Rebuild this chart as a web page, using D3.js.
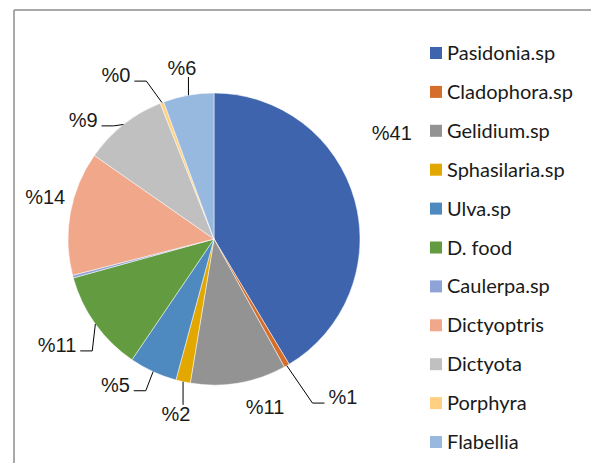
<!DOCTYPE html>
<html>
<head>
<meta charset="utf-8">
<script src="https://cdn.jsdelivr.net/npm/d3@7"></script>
<style>
  html, body { margin: 0; padding: 0; background: #fff; }
  svg { display: block; }
</style>
</head>
<body>
<svg id="chart" width="591" height="463"></svg>
<script>
// ---- data ----
const categories = ["Pasidonia.sp", "Cladophora.sp", "Gelidium.sp", "Sphasilaria.sp", "Ulva.sp",
  "D. food", "Caulerpa.sp", "Dictyoptris", "Dictyota", "Porphyra", "Flabellia"];
const values = [41.4, 0.6, 10.6, 1.6, 5.3, 11.2, 0.3, 13.7, 9.3, 0.4, 5.6];
const colors = ["#3E64AE", "#D46E2A", "#939393", "#E2A800", "#4E89C0",
  "#629B40", "#8FA4D6", "#F1A78A", "#C0C0C0", "#FFD07F", "#97B8DF"];
const showLabel = [true, true, true, true, true, true, false, true, true, true, true];

// ---- label layout (polar placement around pie centre: angle in degrees clockwise from top, distance) ----
const labelAngle = [59.2, 140.8, 163.1, 192.3, 214.1, 236.0, null, 284.0, 312.3, 329.1, 349.4];
const labelDist  = [207, 204, 175.6, 179, 176, 189.4, null, 174, 177, 191, 174];
const leaderType = ["none", "h", "none", "v", "h", "h", null, "none", "h", "h", "v"];

const svg = d3.select("#chart");
const W = 591, H = 463;

// frame
svg.append("line").attr("x1", 14).attr("y1", 10).attr("x2", W).attr("y2", 10)
  .attr("stroke", "#8c8c8c").attr("stroke-width", 1.5);
svg.append("line").attr("x1", 14).attr("y1", 10).attr("x2", 14).attr("y2", H)
  .attr("stroke", "#8c8c8c").attr("stroke-width", 1.5);

const cx = 214, cy = 239, R = 146;
const g = svg.append("g").attr("transform", `translate(${cx},${cy})`);

const pie = d3.pie().sort(null).value(d => d).startAngle(0).endAngle(2 * Math.PI);
const arcs = pie(values);
const arc = d3.arc().innerRadius(0).outerRadius(R);

g.selectAll("path.slice").data(arcs).enter().append("path")
  .attr("class", "slice")
  .attr("d", arc)
  .attr("fill", (d, i) => colors[i])
  .attr("stroke", "#fff")
  .attr("stroke-width", 0.5);

const total = d3.sum(values);
const polar = (deg, r) => {
  const a = deg * Math.PI / 180;
  return [r * Math.sin(a), -r * Math.cos(a)];
};

arcs.forEach((d, i) => {
  if (!showLabel[i]) return;
  const [lx, ly] = polar(labelAngle[i], labelDist[i]);
  const t = g.append("text")
    .attr("x", lx).attr("y", ly).attr("dy", "0.35em")
    .attr("text-anchor", "middle")
    .attr("font-family", "'Liberation Sans', Arial, sans-serif")
    .attr("font-size", 20)
    .attr("fill", "#1a1a1a")
    .text("%" + Math.round(d.value / total * 100));
  const bb = t.node().getBBox();
  const mid = (d.startAngle + d.endAngle) / 2;
  const px = R * Math.sin(mid), py = -R * Math.cos(mid);
  let pts = null;
  if (leaderType[i] === "h") {
    const ly2 = ly + 6;
    if (lx < px) {
      const ex = bb.x + bb.width + 4;
      pts = [[px, py], [ex + 12, ly2], [ex, ly2]];
    } else {
      const ex = bb.x - 4;
      pts = [[px, py], [ex - 12, ly2], [ex, ly2]];
    }
  } else if (leaderType[i] === "v") {
    const ey = ly > py ? bb.y + 2 : bb.y + bb.height - 2;
    pts = [[px, py], [px, ey]];
  }
  if (pts) {
    g.append("path").attr("d", d3.line()(pts))
      .attr("fill", "none").attr("stroke", "#000").attr("stroke-width", 1);
  }
});

// legend
const legend = svg.append("g");
const ly0 = 53, lstep = 38.9;
categories.forEach((c, i) => {
  const y = ly0 + i * lstep;
  legend.append("rect").attr("x", 430).attr("y", y - 6).attr("width", 12).attr("height", 12)
    .attr("fill", colors[i]);
  legend.append("text").attr("x", 447).attr("y", y).attr("dy", "0.35em")
    .attr("font-family", "Lato, 'Open Sans', sans-serif")
    .attr("font-size", 20)
    .attr("fill", "#1a1a1a")
    .text(c);
});
</script>
</body>
</html>
